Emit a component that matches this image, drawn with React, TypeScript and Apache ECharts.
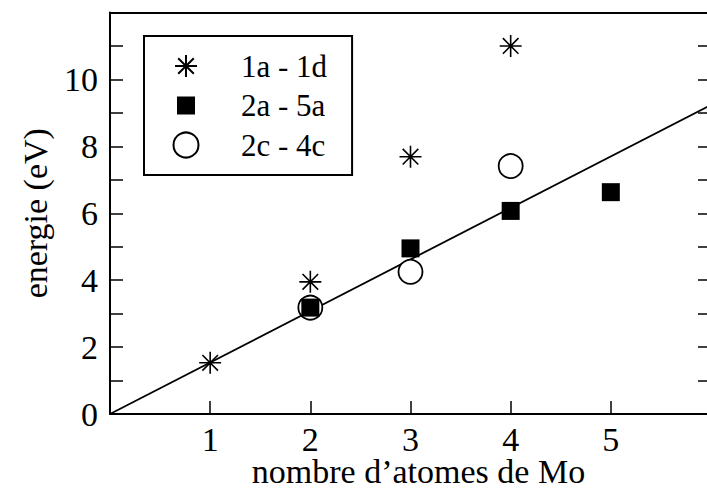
import React, { useEffect, useRef } from "react";
import * as echarts from "echarts";

const seriesNames = ["1a - 1d", "2a - 5a", "2c - 4c"];
const starData: number[][] = [[1, 1.53], [2, 3.95], [3, 7.69], [4, 11.0]];
const squareData: number[][] = [[2, 3.18], [3, 4.95], [4, 6.07], [5, 6.63]];
const circleData: number[][] = [[2, 3.18], [3, 4.25], [4, 7.41]];
const fitLine: number[][] = [[0, 0], [6, 9.24]];
const xTicks = [1, 2, 3, 4, 5];
const yTicks = [0, 2, 4, 6, 8, 10];

const FONT = "Liberation Serif";
const PAD = "M-12.5 -12.5 M12.5 12.5 ";
const starPath = "path://" + PAD + "M0 -11 L0 11 M-11 0 L11 0 M-7.8 -7.8 L7.8 7.8 M-7.8 7.8 L7.8 -7.8";
const squarePath = "path://" + PAD + "M-9 -9 L9 -9 L9 9 L-9 9 Z";

export default function App() {
  const ref = useRef<HTMLDivElement>(null);
  useEffect(() => {
    if (!ref.current) return;
    const chart = echarts.init(ref.current, null, { renderer: "svg" });
    const axisLine = { show: true, onZero: false, lineStyle: { color: "#000", width: 2 } };
    const tick = { inside: true, length: 13, lineStyle: { color: "#000", width: 1.5 } };
    chart.setOption({
      animation: false,
      backgroundColor: "#fff",
      grid: {
        left: 110,
        top: 12.5,
        right: -4,
        bottom: 80,
        containLabel: false,
        outerBoundsMode: "none",
      },
      legend: {
        orient: "vertical",
        left: 144,
        top: 36,
        selectedMode: false,
        itemWidth: 25,
        itemHeight: 25,
        itemGap: 8.5,
        padding: [14.5, 25, 14.5, 28.5],
        borderColor: "#000",
        borderWidth: 2,
        backgroundColor: "#fff",
        textStyle: { fontFamily: FONT, fontSize: 31, color: "#000", padding: [0, 0, 0, 37.5] },
        data: [
          { name: seriesNames[0], icon: starPath },
          { name: seriesNames[1], icon: squarePath },
          { name: seriesNames[2], icon: "circle" },
        ],
      },
      xAxis: [
        {
          type: "value",
          min: 0,
          max: 6,
          interval: 1,
          position: "bottom",
          axisLine,
          splitLine: { show: false },
          axisTick: tick,
          axisLabel: {
            margin: 8,
            fontFamily: FONT,
            fontSize: 34,
            color: "#000",
            formatter: (v: number) => (xTicks.includes(v) ? String(v) : ""),
          },
          name: "nombre d\u2019atomes de Mo",
          nameLocation: "middle",
          nameGap: 40,
          nameMoveOverlap: false,
          nameTextStyle: { fontFamily: FONT, fontSize: 34, color: "#000", padding: [0, 0, 0, 16] },
        },
        {
          type: "value",
          min: 0,
          max: 6,
          position: "top",
          axisLine,
          axisTick: { show: false },
          axisLabel: { show: false },
          splitLine: { show: false },
        },
      ],
      yAxis: [
        {
          type: "value",
          min: 0,
          max: 12,
          interval: 1,
          position: "left",
          axisLine,
          splitLine: { show: false },
          axisTick: tick,
          axisLabel: {
            margin: 12,
            fontFamily: FONT,
            fontSize: 34,
            color: "#000",
            formatter: (v: number) => (yTicks.includes(v) ? String(v) : ""),
          },
          name: "energie (eV)",
          nameLocation: "middle",
          nameGap: 58,
          nameMoveOverlap: false,
          nameTextStyle: { fontFamily: FONT, fontSize: 34, color: "#000" },
        },
        {
          type: "value",
          min: 0,
          max: 12,
          interval: 1,
          position: "right",
          axisLine,
          splitLine: { show: false },
          axisTick: tick,
          axisLabel: { show: false },
        },
      ],
      series: [
        {
          type: "line",
          data: fitLine,
          symbol: "none",
          lineStyle: { color: "#000", width: 1.8 },
          z: 1,
          silent: true,
        },
        {
          name: seriesNames[0],
          type: "scatter",
          data: starData,
          symbol: starPath,
          symbolSize: 25,
          itemStyle: { color: "#000", borderColor: "#000", borderWidth: 1.6, opacity: 1 },
          z: 4,
        },
        {
          name: seriesNames[1],
          type: "scatter",
          data: squareData,
          symbol: squarePath,
          symbolSize: 25,
          itemStyle: { color: "#000", opacity: 1 },
          z: 3,
        },
        {
          name: seriesNames[2],
          type: "scatter",
          data: circleData,
          symbol: "circle",
          symbolSize: 24,
          itemStyle: { color: "#fff", borderColor: "#000", borderWidth: 1.8, opacity: 1 },
          z: 2,
        },
      ],
    });
    return () => chart.dispose();
  }, []);
  return (
    <div
      ref={ref}
      style={{ position: "fixed", left: 0, top: 0, width: 707, height: 494, background: "#fff" }}
    />
  );
}
